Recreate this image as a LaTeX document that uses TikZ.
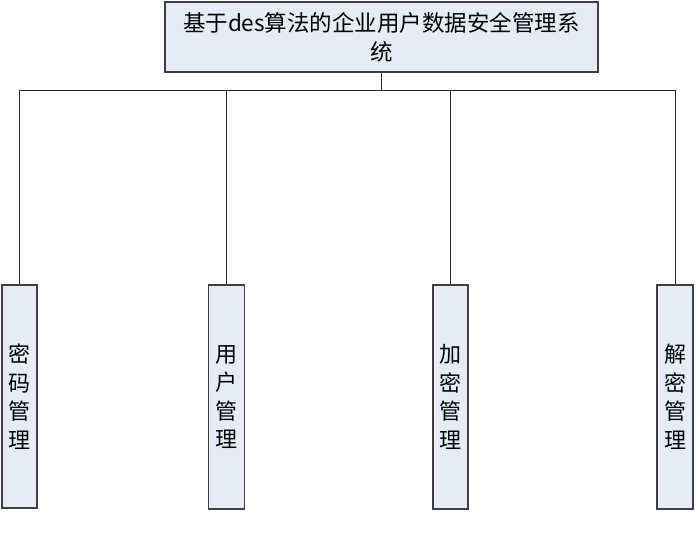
\documentclass[tikz,border=0pt]{standalone}
\usepackage{fontspec}
\setmainfont{Noto Sans CJK SC}
\begin{document}
\begin{tikzpicture}[x=1pt,y=-1pt,
  box/.style={draw=black!75, line width=1.1pt, fill=boxfill, inner sep=0pt},
  conn/.style={draw=black!85, line width=0.9pt},
  vtext/.style={font=\fontsize{22}{28.5}\selectfont, align=center}]
\definecolor{boxfill}{HTML}{E6ECF7}
\useasboundingbox (0,0) rectangle (695,559);
\node[box, minimum width=433pt, minimum height=70pt, font=\fontsize{22.5}{29}\selectfont, align=center] (top) at (381.5,37) {基于des算法的企业用户数据安全管理系\\统};
\node[box, minimum width=35pt, minimum height=223pt] (a) at (19.5,396.5) {};
\node[box, minimum width=36pt, minimum height=224pt] (b) at (226.5,397) {};
\node[box, minimum width=35pt, minimum height=224pt] (c) at (450.5,397) {};
\node[box, minimum width=36pt, minimum height=224pt] (d) at (675,397) {};
\node[vtext] at (a.center) {密\\码\\管\\理};
\node[vtext] at (b.center) {用\\户\\管\\理};
\node[vtext] at (c.center) {加\\密\\管\\理};
\node[vtext] at (d.center) {解\\密\\管\\理};
\coordinate (j) at (top.south |- 0,90);
\draw[conn] (top.south) -- (j);
\draw[conn] (a.north) -- (a.north |- j) -- (d.north |- j) -- (d.north);
\draw[conn] (b.north) -- (b.north |- j);
\draw[conn] (c.north) -- (c.north |- j);
\end{tikzpicture}
\end{document}
